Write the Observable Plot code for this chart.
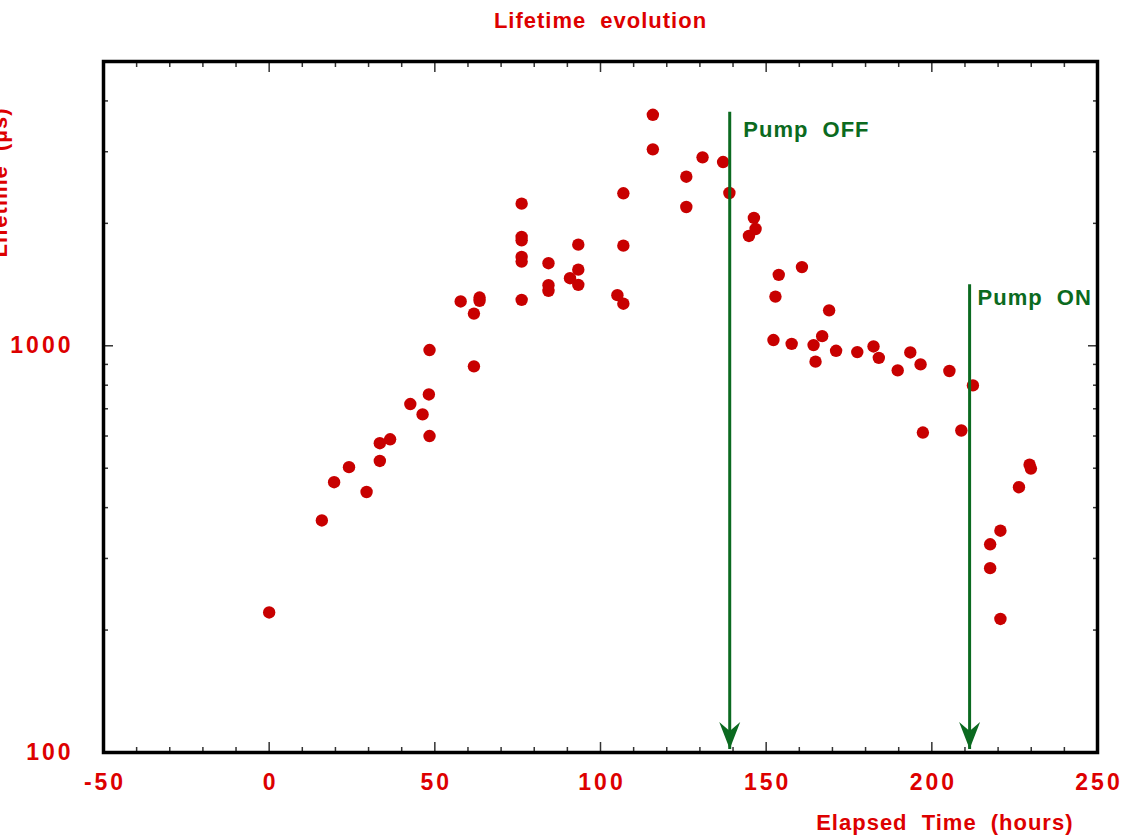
<!DOCTYPE html>
<html><head><meta charset="utf-8">
<script src="https://cdn.jsdelivr.net/npm/d3@7"></script>
<script src="https://cdn.jsdelivr.net/npm/@observablehq/plot@0.6"></script>
<style>
html,body{margin:0;padding:0;background:#fff;}
#chart svg text{letter-spacing:1px;word-spacing:7px;}
#chart svg g[aria-label="x-axis tick label"] text,
#chart svg g[aria-label="y-axis tick label"] text{letter-spacing:3px;}
</style></head><body><div id="chart"></div>
<script>
// Measured data: elapsed time (hours) and lifetime (µs)
const hours = [0,15.9,19.6,24.1,29.4, 33.4,33.4,36.5,42.6,46.3, 48.2,48.4,48.4,57.8,61.8, 61.8,63.5,63.5,76.2,76.2,
  76.2,76.2,76.2,76.2,84.3, 84.3,84.3,90.8,93.3,93.3, 93.3,105.1,106.9,106.9,106.9, 115.8,115.8,125.9,125.9,130.8,
  137.0,138.9,144.8,146.3,146.8, 153.8,152.8,152.2,157.7,160.8, 164.3,164.9,166.9,169.0,171.1, 177.5,182.4,184.0,189.7,193.5,
  196.6,197.3,205.3,208.9,212.4, 217.6,217.6,220.7,220.7,226.3, 229.5,229.9];
const lifetime = [221,372,462,503,437, 521,576,589,719,678, 759,600,976,1285,890, 1200,1314,1290,2236,1852,
  1817,1654,1611,1297,1596, 1409,1365,1466,1773,1539, 1412,1332,2371,1763,1269, 3698,3041,2604,2194,2906,
  2830,2375,1862,2062,1937, 1494,1321,1033,1011,1561, 1004,914,1056,1222,972, 965,996,934,870,963,
  900,612,867,619,799, 325,284,351,213,449, 510,499];

// Axis ticks
const xMajorTicks = [-50,0,50,100,150,200,250];
const xMinorTicks = [-40,-30,-20,-10,10,20,30,40,60,70,80,90,110,120,130,140,160,170,180,190,210,220,230,240];
const yMajorTicks = [100,1000];
const yMinorTicks = [200,300,400,500,600,700,800,900,2000,3000,4000];

// Pump annotations
const pumpLabels = ["Pump OFF","Pump ON"];
const pumpHours = [139,211.4];
const pumpTop = [3760,1417];
const pumpBottom = [102,102];
const pumpLabelHours = [143.1,213.8];
const pumpLabelLifetime = [3390,1312];

const titleText = "Lifetime evolution";
const xLabelText = "Elapsed Time (hours)";
const yLabelText = "Lifetime (µs)";

const points = hours.map((h,i)=>({h, v: lifetime[i]}));
const pumps = pumpLabels.map((label,i)=>({label, x: pumpHours[i], top: pumpTop[i], bottom: pumpBottom[i], lx: pumpLabelHours[i], ly: pumpLabelLifetime[i]}));

const RED = "#dd0000";
const GREEN = "#0b6a20";
const TICK = "#333";
const font = {fontWeight:"bold", fill: RED};

// filled, notched arrowhead (tip at the vector's end)
const headShape = {draw(context, l) {
  context.moveTo(0, -l);
  context.lineTo(-10.5, 0);
  context.lineTo(0, -9);
  context.lineTo(10.5, 0);
  context.closePath();
}};

const chart = Plot.plot({
  width: 1142, height: 835,
  marginLeft: 103, marginRight: 45, marginTop: 61, marginBottom: 83,
  style: {fontFamily: "'Liberation Sans', Arial, sans-serif", background: "white"},
  x: {domain: [-50,250]},
  y: {type: "log", domain: [100,5000]},
  marks: [
    // minor & major ticks, inward on all four sides
    Plot.axisX(xMinorTicks, {anchor:"bottom", tickSize:-5, text:null, stroke:TICK, strokeWidth:1.5, label:null}),
    Plot.axisX(xMajorTicks, {anchor:"bottom", tickSize:-10, text:null, stroke:TICK, strokeWidth:1.5, label:null}),
    Plot.axisX(xMinorTicks, {anchor:"top", tickSize:-5, text:null, stroke:TICK, strokeWidth:1.5, label:null}),
    Plot.axisX(xMajorTicks, {anchor:"top", tickSize:-10, text:null, stroke:TICK, strokeWidth:1.5, label:null}),
    Plot.axisY(yMinorTicks, {anchor:"left", tickSize:-5, text:null, stroke:TICK, strokeWidth:1.5, label:null}),
    Plot.axisY(yMajorTicks, {anchor:"left", tickSize:-10, text:null, stroke:TICK, strokeWidth:1.5, label:null}),
    Plot.axisY(yMinorTicks, {anchor:"right", tickSize:-5, text:null, stroke:TICK, strokeWidth:1.5, label:null}),
    Plot.axisY(yMajorTicks, {anchor:"right", tickSize:-10, text:null, stroke:TICK, strokeWidth:1.5, label:null}),
    // tick labels
    Plot.axisX(xMajorTicks, {anchor:"bottom", tickSize:0, tickPadding:21, dx:1.5, tickFormat: d=>String(d), fontSize:23, ...font, label:null, lineAnchor:"top"}),
    Plot.axisY(yMajorTicks, {anchor:"left", tickSize:0, tickPadding:30, tickFormat: d=>String(d), fontSize:23, ...font, label:null}),
    // data
    Plot.dot(points, {x:"h", y:"v", r:6.2, fill:"#c80000", stroke:null}),
    // pump arrows
    Plot.link(pumps, {x1:"x", y1:"top", x2:"x", y2:"bottom", stroke:GREEN, strokeWidth:3}),
    Plot.vector(pumps, {x:"x", y:"bottom", rotate:180, length:27, anchor:"end", shape:headShape, fill:GREEN, stroke:"none"}),
    Plot.text(pumps, {x:"lx", y:"ly", text:"label", textAnchor:"start", lineAnchor:"middle", fontSize:22, fontWeight:"bold", fill:GREEN}),
    // frame
    Plot.frame({stroke:"black", strokeWidth:3.5}),
    // titles
    Plot.text([titleText], {frameAnchor:"top", dy:-41, lineAnchor:"middle", fontSize:22, ...font}),
    Plot.text([xLabelText], {frameAnchor:"bottom-right", dx:-24, dy:70, textAnchor:"end", lineAnchor:"middle", fontSize:22, ...font}),
    Plot.text([yLabelText], {frameAnchor:"top-left", dx:-104, dy:121, rotate:-90, textAnchor:"middle", lineAnchor:"middle", fontSize:22, ...font})
  ]
});
document.getElementById("chart").appendChild(chart);
</script></body></html>
